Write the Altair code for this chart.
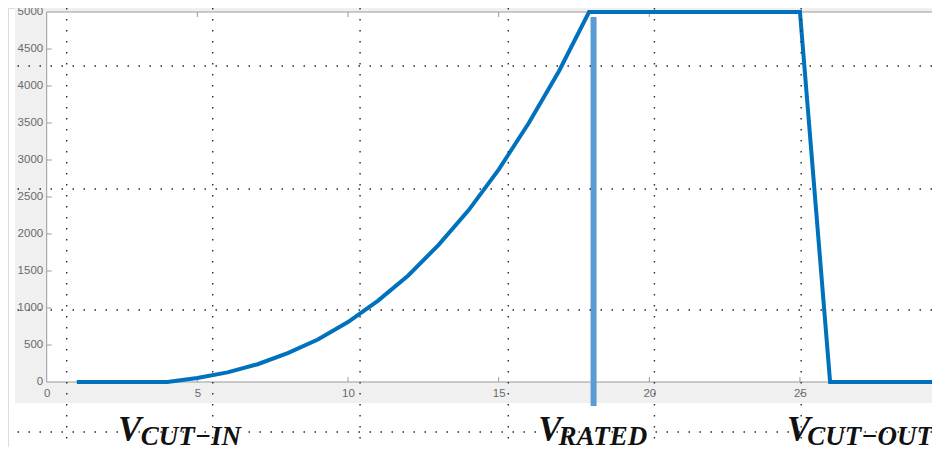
import altair as alt
import pandas as pd

# ---- data ----
wind_speed = list(range(1, 31))
power = [0, 0, 0, 0, 55, 130, 240, 390, 575, 810, 1100, 1440, 1850, 2320, 2870,
         3500, 4200, 5000, 5000, 5000, 5000, 5000, 5000, 5000, 5000, 0, 0, 0, 0, 0]

x_ticks = [0, 5, 10, 15, 20, 25]
y_ticks = [0, 500, 1000, 1500, 2000, 2500, 3000, 3500, 4000, 4500, 5000]

rated_marker_x = [18.15]
rated_marker_top = [4932]
rated_marker_bottom = [-324]

overlay_v = [0.664, 5.51, 10.40, 15.32, 20.17, 25.04]
overlay_h = [4270, 2608, 973, -676]

big_labels = ["V", "V", "V"]
big_x = [2.366, 16.31, 24.57]
big_y = [-800, -800, -800]
sub_labels = ["CUT\u2212IN", "RATED", "CUT\u2212OUT"]
sub_x = [3.12, 16.99, 25.24]
sub_y = [-850, -850, -850]

X0, X1 = -1.2844, 29.382
Y0, Y1 = -878.4, 5054.05

xs = alt.Scale(domain=[X0, X1], nice=False, zero=False)
ys = alt.Scale(domain=[Y0, Y1], nice=False, zero=False)

xaxis = alt.Axis(values=x_ticks, title=None, domain=False, ticks=False, grid=False,
                 offset=-65, labelFont="Liberation Sans", labelFontSize=11.5, format="d",
                 labelColor="#6a6a6a", labelPadding=5, labelFlush=False, zindex=1)
yaxis = alt.Axis(values=y_ticks, title=None, domain=False, ticks=False, grid=False,
                 offset=-38.7, labelFont="Liberation Sans", labelFontSize=11.5, format="d",
                 labelColor="#6a6a6a", labelPadding=4, zindex=1)


def X(field):
    return alt.X(field, type="quantitative", scale=xs, axis=xaxis)


def Y(field):
    return alt.Y(field, type="quantitative", scale=ys, axis=yaxis)


# figure gray background + white axes area
frame = pd.DataFrame({"x": [-1.052, 0], "x2": [X1, X1], "y": [-283.8, 0], "y2": [Y1, 5000],
                      "c": ["fig", "ax"]})
bg = alt.Chart(frame).mark_rect().encode(
    x=X("x"), x2="x2", y=Y("y"), y2="y2",
    color=alt.Color("c:N", scale=alt.Scale(domain=["fig", "ax"], range=["#f0f0f0", "#ffffff"]),
                    legend=None),
)

# axis box lines
box = pd.DataFrame({"x": [0, 0, 0], "x2": [X1, 0, X1], "y": [0, 0, 5000], "y2": [0, 5000, 5000]})
box_lines = alt.Chart(box).mark_rule(color="#9a9a9a", strokeWidth=1).encode(
    x=X("x"), x2="x2", y=Y("y"), y2="y2")

# inward ticks
xt = pd.DataFrame({"v": x_ticks[1:]})
bottom_ticks = alt.Chart(xt).transform_calculate(a="0", b="68").mark_rule(color="#9a9a9a").encode(
    x=X("v"), y=Y("a"), y2="b:Q")
top_ticks = alt.Chart(xt).transform_calculate(a="5000", b="4932").mark_rule(color="#9a9a9a").encode(
    x=X("v"), y=Y("a"), y2="b:Q")
yt = pd.DataFrame({"v": y_ticks[1:-1]})
left_ticks = alt.Chart(yt).transform_calculate(a="0", b="0.166").mark_rule(color="#9a9a9a").encode(
    y=Y("v"), x=X("a"), x2="b:Q")

# power curve
curve_df = pd.DataFrame({"ws": wind_speed, "p": power})
curve = alt.Chart(curve_df).mark_line(color="#0072BD", strokeWidth=4, strokeJoin="miter").encode(
    x=X("ws"), y=Y("p"))

# rated-speed marker
marker_df = pd.DataFrame({"x": rated_marker_x, "y": rated_marker_bottom, "y2": rated_marker_top})
marker = alt.Chart(marker_df).mark_rule(color="#5B9BD5", strokeWidth=6).encode(
    x=X("x"), y=Y("y"), y2="y2")

# dotted overlay lines
dot_style = dict(color="#2a2a2a", strokeWidth=1.4, strokeDash=[1.5, 9.5])
vdots = alt.Chart(pd.DataFrame({"x": overlay_v})).mark_rule(**dot_style).encode(x=X("x"))
hdots = alt.Chart(pd.DataFrame({"y": overlay_h})).mark_rule(**dot_style).encode(y=Y("y"))

# labels
big_df = pd.DataFrame({"t": big_labels, "x": big_x, "y": big_y})
big_text = alt.Chart(big_df).mark_text(
    font="Liberation Serif", fontSize=35, fontWeight="bold", fontStyle="italic",
    align="left", baseline="alphabetic", color="#111111").encode(
    x=X("x"), y=Y("y"), text="t:N")
sub_df = pd.DataFrame({"t": sub_labels, "x": sub_x, "y": sub_y})
sub_text = alt.Chart(sub_df).mark_text(
    font="Liberation Serif", fontSize=27, fontWeight="bold", fontStyle="italic",
    align="left", baseline="alphabetic", color="#111111").encode(
    x=X("x"), y=Y("y"), text="t:N")

chart = alt.layer(
    bg, box_lines, bottom_ticks, top_ticks, left_ticks, curve, marker,
    vdots, hdots, big_text, sub_text
).properties(
    width=924, height=439, padding=0,
    autosize=alt.AutoSizeParams(type="none"),
).configure_view(stroke=None).configure(background="#ffffff")

chart.save("out.html", embed_options={"renderer": "svg", "actions": False})
